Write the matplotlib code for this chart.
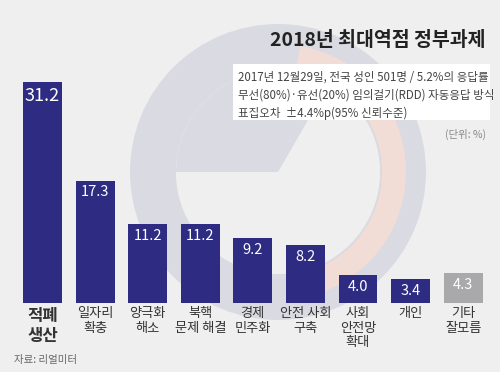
import matplotlib
matplotlib.use("Agg")
import matplotlib.pyplot as plt
from matplotlib.patches import Wedge, Circle, Rectangle

plt.rcParams['font.family'] = ['Noto Sans CJK KR', 'DejaVu Sans']

categories = ["적폐\n생산", "일자리\n확충", "양극화\n해소", "북핵\n문제 해결", "경제\n민주화",
              "안전 사회\n구축", "사회\n안전망\n확대", "개인", "기타\n잘모름"]
values = [31.2, 17.3, 11.2, 11.2, 9.2, 8.2, 4.0, 3.4, 4.3]
value_labels = ["31.2", "17.3", "11.2", "11.2", "9.2", "8.2", "4.0", "3.4", "4.3"]
colors = ["#2d2c82"] * 8 + ["#a9a9ab"]

title = "2018년 최대역점 정부과제"
note_lines = ["2017년 12월29일, 전국 성인 501명 / 5.2%의 응답률",
              "무선(80%)·유선(20%) 임의걸기(RDD) 자동응답 방식",
              "표집오차  ±4.4%p(95% 신뢰수준)"]
unit = "(단위: %)"
source = "자료: 리얼미터"

W, H = 500, 372
fig = plt.figure(figsize=(W / 100, H / 100), dpi=100)
fig.patch.set_facecolor("#efefef")

# background layer in pixel coordinates
bg = fig.add_axes([0, 0, 1, 1])
bg.set_xlim(0, W)
bg.set_ylim(H, 0)
bg.axis("off")
bg.set_facecolor("none")
cx, cy = 278, 172
bg.add_patch(Wedge((cx, cy), 148, 0, 360, width=46, facecolor="#dadae2", edgecolor="none"))
bg.add_patch(Wedge((cx, cy), 128, 280, 75, width=24, facecolor="#f2dcd6", edgecolor="none"))
bg.add_patch(Circle((cx, cy), 102, facecolor="#efefef", edgecolor="none"))
bg.add_patch(Wedge((cx, cy), 102, 180, 300, facecolor="#dadae2", edgecolor="none"))
bg.add_patch(Wedge((cx, cy), 128, 290, 360, width=22, facecolor="#f2dcd6", edgecolor="none"))

# title & note box
bg.text(486, 41, title, ha="right", va="center", fontsize=14, color="#222222", fontweight="bold")
bg.add_patch(Rectangle((233, 64), 257, 56, facecolor="white", edgecolor="none"))
for i, line in enumerate(note_lines):
    bg.text(238, 77 + i * 18, line, ha="left", va="center", fontsize=8.3, color="#444444")
bg.text(486, 134, unit, ha="right", va="center", fontsize=7.5, color="#888888")
bg.text(14, 360, source, ha="left", va="center", fontsize=7.5, color="#666666")

# bars
bottom_px, top_px = 303, 303 - 35 * 7.08
left_px, right_px = 16.2, 489.5
ax = fig.add_axes([left_px / W, (H - bottom_px) / H, (right_px - left_px) / W, (bottom_px - top_px) / H])
ax.set_facecolor("none")
x = list(range(len(values)))
ax.bar(x, values, width=0.74, color=colors, zorder=2)
ax.set_xlim(-0.5, len(values) - 0.5)
ax.set_ylim(0, 35)
ax.axis("off")
for i, (v, lab) in enumerate(zip(values, value_labels)):
    fs = 13 if i == 0 else 10.5
    ax.text(i, v - 0.7, lab, ha="center", va="top", fontsize=fs, color="white")
    ax.text(i, -0.6, categories[i], ha="center", va="top", linespacing=1.15,
            fontsize=12 if i == 0 else 9.5, color="#333333",
            fontweight="bold" if i == 0 else "normal")

fig.savefig("out.png", dpi=100, facecolor=fig.get_facecolor())
